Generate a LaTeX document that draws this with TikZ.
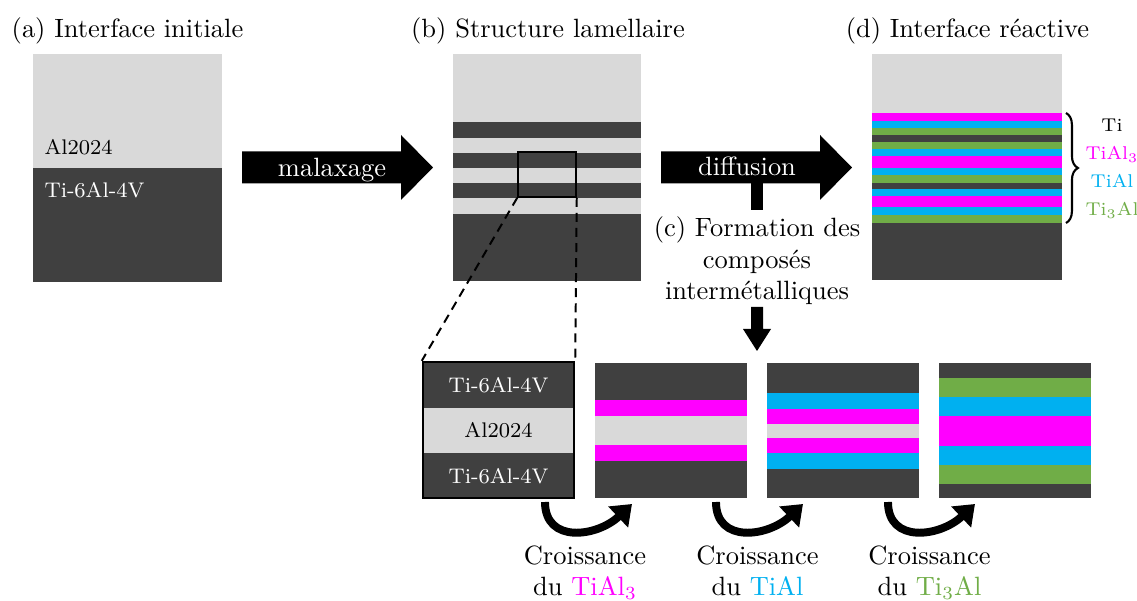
\documentclass[tikz,border=0pt]{standalone}
\usepackage{tikz}
\usetikzlibrary{arrows.meta,positioning,decorations.pathreplacing}
\definecolor{alu}{RGB}{217,217,217}
\definecolor{titane}{RGB}{64,64,64}
\definecolor{tialtrois}{RGB}{255,0,255}
\definecolor{tial}{RGB}{0,176,240}
\definecolor{titroisal}{RGB}{112,173,71}
\tikzset{
  titre/.style={font=\normalsize,anchor=base},
  mat/.style={font=\footnotesize,text=#1,inner sep=0pt},
  mat/.default=black,
  legende/.style={font=\scriptsize,text=#1,anchor=base,inner sep=0pt},
  legende/.default=black,
  croiss/.style={line width=3pt,-{Triangle[length=7.2pt,width=10.5pt]}},
  loupe/.style={draw=black,line width=0.6pt,inner sep=0pt,
    minimum width=21.9pt,minimum height=17pt},
  pointille/.style={line width=0.75pt,dash pattern=on 3.4pt off 2.3pt},
  % grosse fleche pleine
  pics/fleche/.style={code={
    \fill (0,-16) -- (159,-16) -- (159,-32.5) -- (191,0) -- (159,32.5) -- (159,16) -- (0,16) -- cycle;
  }},
}
\begin{document}
\begin{tikzpicture}[x=0.378pt,y=-0.378pt]
  \useasboundingbox (0,0) rectangle (1137,601);
  % titres
  \node[titre] (ta) at (127.5,38) {(a) Interface initiale};
  \node[titre] (tb) at (548,38) {(b) Structure lamellaire};
  \node[titre] (td) at (967.5,38) {(d) Interface r\'eactive};

  % (a) interface initiale
  \fill[alu] (33,54) rectangle (222,168);
  \fill[titane] (33,168) rectangle (222,282);
  \node[mat,anchor=west] (a-al) at (44,147) {Al2024};
  \node[mat=white,anchor=west] (a-ti) at (44,190) {Ti-6Al-4V};

  % malaxage
  \pic at (242,167.5) {fleche};
  \node[titre,text=white] (malax) at (332,177) {malaxage};

  % (b) structure lamellaire
  \foreach \ya/\yb/\c in {54/122/alu,122/138/titane,138/153/alu,153/168/titane,
      168/183/alu,183/198/titane,198/214/alu,214/281/titane}
    \fill[\c] (453,\ya) rectangle (641,\yb);
  \node[loupe] (loupe) at (547,174.5) {};

  % diffusion
  \pic at (661,167.5) {fleche};
  \fill (751,183) rectangle (763,210);
  \node[titre,text=white] (diff) at (747,176) {diffusion};
  \node[align=center,anchor=north,inner sep=0pt] (form) at (757,216)
    {(c) Formation des\\compos\'es\\interm\'etalliques};
  \fill (751,307) -- (763,307) -- (763,329) -- (771,329) -- (757,351) -- (743,329) -- (751,329) -- cycle;

  % (d) interface reactive
  \foreach \ya/\yb/\c in {54/112.7/alu,112.7/121/tialtrois,121/127.7/tial,127.7/135/titroisal,
      135/142/titane,142/149.3/titroisal,149.3/155.7/tial,155.7/168.3/tialtrois,
      168.3/175/tial,175/182.7/titroisal,182.7/188.7/titane,188.7/196/tial,
      196/207.3/tialtrois,207.3/215/tial,215/222.7/titroisal,222.7/280/titane}
    \fill[\c] (872,\ya) rectangle (1062,\yb);
  \draw[line width=0.8pt,decorate,decoration={brace,amplitude=4.5pt}] (1066,113) -- (1066,223);
  \node[legende] (l-ti) at (1112,132) {Ti};
  \node[legende=tialtrois] (l-tial3) at (1112,160) {TiAl$_3$};
  \node[legende=tial] (l-tial) at (1112,188) {TiAl};
  \node[legende=titroisal] (l-ti3al) at (1112,216) {Ti$_3$Al};

  % zoom sur le sandwich
  \foreach \ya/\yb/\c in {362/408/titane,408/453/alu,453/498/titane}
    \fill[\c] (423,\ya) rectangle (574,\yb);
  \node[draw=black,line width=0.9pt,inner sep=0pt,minimum width=57.1pt,minimum height=51.4pt]
    (zbox) at (498.5,430) {};
  \node[mat=white] (z-ti1) at (498.5,385) {Ti-6Al-4V};
  \node[mat] (z-al) at (498.5,430.5) {Al2024};
  \node[mat=white] (z-ti2) at (498.5,476) {Ti-6Al-4V};
  \draw[pointille] (loupe.south west) -- (zbox.north west);
  \draw[pointille] (loupe.south east) -- (zbox.north east);

  % croissance des composes
  \foreach \ya/\yb/\c in {363/400/titane,400/416/tialtrois,416/445/alu,445/461/tialtrois,461/498/titane}
    \fill[\c] (595,\ya) rectangle (747,\yb);
  \foreach \ya/\yb/\c in {363/393/titane,393/409/tial,409/424/tialtrois,424/438/alu,
      438/453/tialtrois,453/469/tial,469/498/titane}
    \fill[\c] (767,\ya) rectangle (919,\yb);
  \foreach \ya/\yb/\c in {363/378/titane,378/397/titroisal,397/416/tial,416/446/tialtrois,
      446/465/tial,465/484/titroisal,484/498/titane}
    \fill[\c] (939,\ya) rectangle (1091,\yb);

  \foreach \x [count=\i] in {545,716,888}{
    \coordinate (c\i a) at (\x,502);
    \coordinate (c\i b) at (\x+87,504);
    \draw[croiss] (c\i a) .. controls +(0,42) and +(-35,33) .. (c\i b);
  }
  \node[align=center,anchor=north,inner sep=0pt] (cr1) at (585,545) {Croissance\\du \textcolor{tialtrois}{TiAl$_3$}};
  \node[align=center,anchor=north,inner sep=0pt] (cr2) at (757.5,545) {Croissance\\du \textcolor{tial}{TiAl}};
  \node[align=center,anchor=north,inner sep=0pt] (cr3) at (929.5,545) {Croissance\\du \textcolor{titroisal}{Ti$_3$Al}};
\end{tikzpicture}
\end{document}
